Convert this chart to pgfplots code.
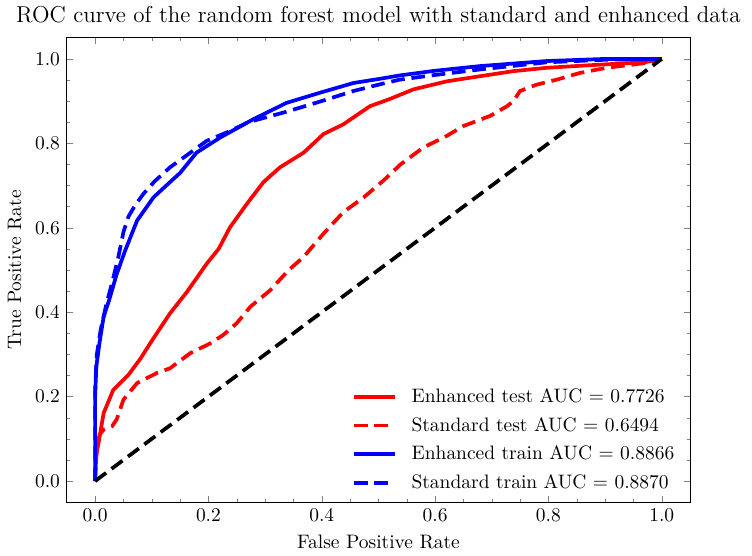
\documentclass[border=0pt]{standalone}
\usepackage{pgfplots}
\pgfplotsset{compat=1.18}
\begin{document}
\begin{tikzpicture}
\begin{axis}[
  scale only axis,
  width=320pt, height=238.4pt,
  xmin=-0.05, xmax=1.05, ymin=-0.05, ymax=1.05,
  xtick={0,0.2,...,1.0}, ytick={0,0.2,...,1.0},
  minor tick num=3,
  tick align=inside,
  xtick pos=both, ytick pos=both,
  major tick length=3.2pt, minor tick length=1.7pt,
  xticklabel style={/pgf/number format/.cd,fixed,fixed zerofill,precision=1},
  yticklabel style={/pgf/number format/.cd,fixed,fixed zerofill,precision=1},
  title={ROC curve of the random forest model with standard and enhanced data},
  title style={font=\fontsize{11.8}{14}\selectfont, yshift=-2pt},
  xlabel={False Positive Rate}, ylabel={True Positive Rate},
  legend style={draw=none, fill=none, at={(0.991,0.006)}, anchor=south east, row sep=2pt, font=\normalsize},
  legend cell align=left,
  legend image code/.code={\draw[#1] (0pt,0pt) -- (21pt,0pt); \path (26.6pt,0pt);},
  every axis plot/.append style={line width=1.9pt},
]
\addplot[red] coordinates {
(0,0) (0.002,0.06) (0.008,0.106) (0.015,0.161) (0.032,0.216) (0.059,0.252) (0.08,0.29) (0.097,0.326) (0.132,0.397) (0.162,0.448) (0.197,0.515) (0.218,0.55) (0.238,0.601) (0.268,0.657) (0.297,0.708) (0.326,0.743) (0.368,0.778) (0.403,0.822) (0.438,0.845) (0.485,0.888) (0.52,0.905) (0.562,0.928) (0.621,0.947) (0.679,0.959) (0.738,0.971) (0.797,0.979) (0.885,0.986) (0.97,0.992) (1,1)
};
\addlegendentry{Enhanced test AUC = 0.7726}
\addplot[red, dash pattern=on 7pt off 3.5pt] coordinates {
(0,0) (0.003,0.08) (0.008,0.11) (0.015,0.122) (0.03,0.13) (0.038,0.146) (0.05,0.193) (0.074,0.232) (0.109,0.256) (0.132,0.267) (0.168,0.303) (0.203,0.326) (0.226,0.346) (0.25,0.374) (0.274,0.413) (0.309,0.452) (0.341,0.499) (0.368,0.531) (0.403,0.586) (0.438,0.637) (0.474,0.672) (0.509,0.712) (0.538,0.749) (0.579,0.790) (0.621,0.818) (0.65,0.841) (0.697,0.865) (0.727,0.888) (0.738,0.9) (0.75,0.924) (0.779,0.939) (0.815,0.951) (0.856,0.967) (0.903,0.979) (0.97,0.99) (1,1)
};
\addlegendentry{Standard test AUC = 0.6494}
\addplot[blue] coordinates {
(0,0) (0.0,0.2) (0.002,0.27) (0.008,0.33) (0.015,0.389) (0.025,0.43) (0.038,0.49) (0.053,0.546) (0.074,0.617) (0.103,0.672) (0.132,0.708) (0.15,0.73) (0.179,0.778) (0.221,0.814) (0.279,0.857) (0.338,0.896) (0.397,0.920) (0.456,0.943) (0.503,0.953) (0.538,0.961) (0.6,0.972) (0.679,0.983) (0.797,0.995) (0.9,1.0) (1,1)
};
\addlegendentry{Enhanced train AUC = 0.8866}
\addplot[blue, dash pattern=on 7pt off 3.5pt] coordinates {
(0,0) (0,0.22) (0.003,0.3) (0.01,0.36) (0.02,0.42) (0.03,0.47) (0.041,0.531) (0.05,0.59) (0.059,0.627) (0.07,0.652) (0.085,0.680) (0.105,0.71) (0.132,0.743) (0.197,0.806) (0.238,0.829) (0.27,0.85) (0.338,0.875) (0.397,0.899) (0.456,0.924) (0.503,0.940) (0.538,0.951) (0.6,0.962) (0.679,0.975) (0.797,0.992) (0.9,0.998) (1,1)
};
\addlegendentry{Standard train AUC = 0.8870}
\addplot[black, dash pattern=on 7pt off 3.5pt, forget plot] coordinates {(0,0) (1,1)};
\end{axis}
\path ([xshift=-194.3pt]current axis.north) ([xshift=191.8pt]current axis.north);
\end{tikzpicture}
\end{document}
